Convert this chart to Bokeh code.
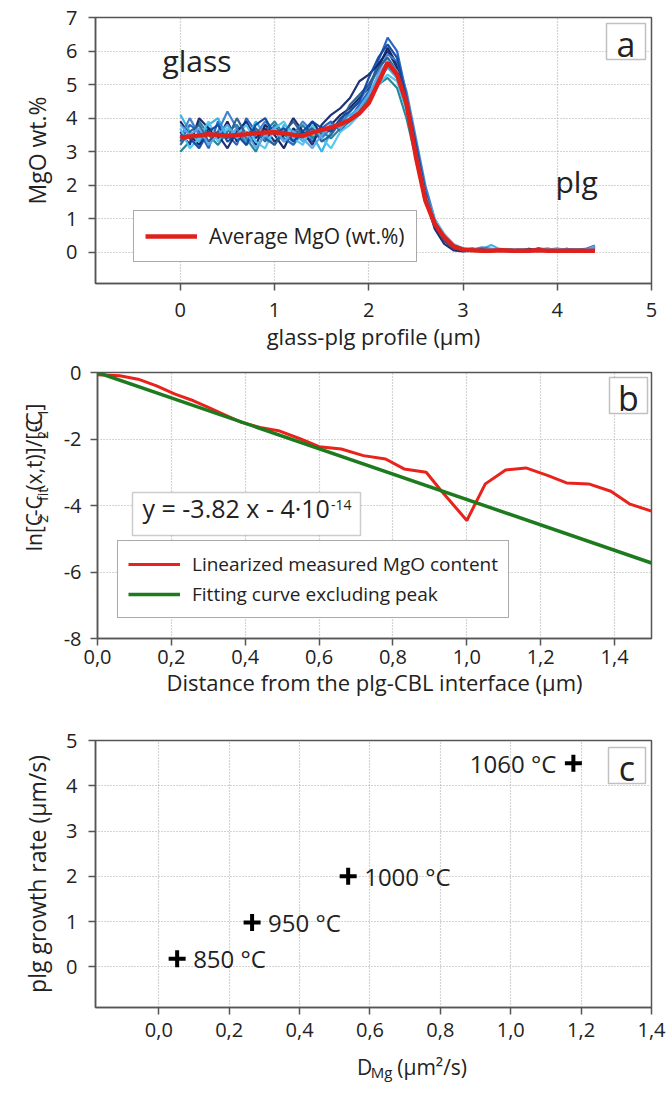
import numpy as np
from bokeh.plotting import figure
from bokeh.layouts import column, row
from bokeh.models import (Range1d, FixedTicker, Legend, LegendItem, Label,
                          BoxAnnotation, CustomJSTickFormatter)
from bokeh.core.properties import value
from bokeh.embed import file_html
from bokeh.resources import INLINE

FONT = "Open Sans"

# ---------------- panel a data ----------------
profile_x = [0.0, 0.1, 0.2, 0.3, 0.4, 0.5, 0.6, 0.7, 0.8, 0.9,
             1.0, 1.1, 1.2, 1.3, 1.4, 1.5, 1.6, 1.7, 1.8, 1.9,
             2.0, 2.1, 2.2, 2.3, 2.4, 2.5, 2.6, 2.7, 2.8, 2.9,
             3.0, 3.1, 3.2, 3.3, 3.4, 3.5, 3.6, 3.7, 3.8, 3.9,
             4.0, 4.1, 4.2, 4.3, 4.4]
profile_1 = [3.9, 3.5, 3.2, 3.7, 3.4, 3.9, 3.3, 3.6, 3.2, 3.8,
             3.5, 3.1, 3.7, 3.4, 3.9, 3.5, 3.8, 4.1, 4.3, 4.6,
             4.9, 5.5, 6.1, 5.6, 4.4, 3.0, 1.7, 0.8, 0.35, 0.12,
             0.05, 0.08, 0.03, 0.1, 0.06, 0.04, 0.09, 0.05, 0.12, 0.07,
             0.05, 0.1, 0.06, 0.04, 0.15]
profile_2 = [3.3, 3.8, 3.6, 3.1, 3.9, 3.5, 3.2, 4.0, 3.6, 3.3,
             3.8, 3.4, 3.2, 3.6, 3.3, 3.7, 3.9, 3.6, 4.0, 4.4,
             4.8, 5.7, 6.4, 6.0, 4.7, 3.2, 1.9, 0.9, 0.4, 0.15,
             0.08, 0.12, 0.05, 0.07, 0.1, 0.05, 0.08, 0.04, 0.09, 0.11,
             0.06, 0.05, 0.08, 0.1, 0.2]
profile_3 = [4.1, 3.6, 3.3, 3.8, 4.0, 3.4, 3.7, 3.3, 3.9, 3.5,
             3.2, 3.8, 3.6, 3.3, 3.5, 3.0, 3.6, 3.9, 4.1, 4.3,
             4.7, 5.2, 5.5, 5.2, 4.3, 3.1, 1.8, 0.95, 0.5, 0.2,
             0.1, 0.06, 0.1, 0.22, 0.08, 0.05, 0.06, 0.1, 0.04, 0.08,
             0.12, 0.06, 0.09, 0.05, 0.1]
profile_4 = [3.0, 3.3, 3.9, 3.5, 3.2, 3.6, 3.8, 3.4, 3.0, 3.6,
             3.9, 3.5, 3.3, 3.8, 3.4, 3.6, 3.4, 3.7, 3.9, 4.2,
             4.6, 5.0, 5.2, 4.9, 4.0, 2.8, 1.6, 0.85, 0.45, 0.18,
             0.07, 0.05, 0.09, 0.06, 0.04, 0.08, 0.05, 0.07, 0.06, 0.04,
             0.09, 0.05, 0.07, 0.06, 0.08]
profile_5 = [3.6, 3.2, 4.0, 3.7, 3.5, 3.1, 3.6, 3.9, 3.4, 3.7,
             3.3, 3.5, 4.0, 3.6, 3.2, 3.8, 4.1, 4.3, 4.6, 5.1,
             5.3, 5.6, 6.0, 5.5, 4.5, 3.1, 1.6, 0.7, 0.25, 0.06,
             0.03, 0.05, 0.04, 0.08, 0.05, 0.03, 0.06, 0.1, 0.05, 0.04,
             0.07, 0.05, 0.04, 0.06, 0.05]
profile_6 = [3.4, 4.0, 3.5, 3.3, 3.6, 4.2, 3.7, 3.2, 3.5, 3.9,
             3.6, 3.3, 3.5, 3.9, 3.6, 3.4, 3.7, 3.8, 4.2, 4.5,
             5.0, 5.4, 5.9, 5.7, 4.8, 3.4, 2.0, 1.0, 0.45, 0.2,
             0.12, 0.08, 0.15, 0.1, 0.06, 0.09, 0.07, 0.05, 0.1, 0.08,
             0.06, 0.1, 0.07, 0.05, 0.12]
profile_7 = [3.7, 3.1, 3.4, 3.9, 3.3, 3.7, 3.5, 3.8, 3.3, 3.1,
             3.7, 3.9, 3.4, 3.2, 3.8, 3.4, 3.1, 3.6, 3.8, 4.1,
             4.5, 5.0, 5.3, 5.1, 4.2, 3.0, 1.8, 1.0, 0.55, 0.25,
             0.12, 0.08, 0.06, 0.09, 0.07, 0.05, 0.08, 0.06, 0.05, 0.07,
             0.1, 0.06, 0.05, 0.08, 0.1]
profile_8 = [3.2, 3.6, 3.8, 3.3, 3.6, 3.4, 4.0, 3.5, 3.7, 3.4,
             3.2, 3.6, 3.9, 3.5, 3.7, 3.3, 3.5, 3.9, 4.4, 4.7,
             5.0, 5.5, 5.8, 5.4, 4.3, 2.9, 1.6, 0.8, 0.35, 0.12,
             0.06, 0.05, 0.07, 0.05, 0.08, 0.06, 0.04, 0.07, 0.05, 0.09,
             0.06, 0.05, 0.07, 0.05, 0.06]
profile_9 = [3.5, 3.4, 3.1, 3.6, 3.8, 3.3, 3.5, 3.2, 3.8, 4.0,
             3.5, 3.7, 3.3, 3.6, 3.9, 3.7, 3.6, 4.0, 4.2, 4.5,
             5.2, 5.8, 6.2, 5.8, 4.6, 3.2, 1.8, 0.9, 0.4, 0.15,
             0.07, 0.05, 0.08, 0.06, 0.05, 0.07, 0.05, 0.06, 0.08, 0.05,
             0.06, 0.07, 0.05, 0.06, 0.07]
profile_10 = [3.8, 3.5, 3.7, 3.2, 3.5, 3.8, 3.4, 3.6, 3.1, 3.5,
              3.7, 3.3, 3.6, 3.4, 3.1, 3.5, 3.8, 3.7, 4.0, 4.3,
              4.7, 5.3, 5.7, 5.4, 4.4, 3.0, 1.7, 0.9, 0.5, 0.2,
              0.1, 0.07, 0.06, 0.1, 0.07, 0.06, 0.09, 0.07, 0.06, 0.1,
              0.07, 0.08, 0.06, 0.07, 0.18]
avg_mgo = [3.42, 3.45, 3.48, 3.52, 3.50, 3.47, 3.50, 3.52, 3.55, 3.57,
           3.58, 3.55, 3.50, 3.47, 3.57, 3.65, 3.72, 3.82, 3.95, 4.15,
           4.45, 5.05, 5.65, 5.30, 4.45, 2.85, 1.55, 0.85, 0.45, 0.18,
           0.08, 0.06, 0.05, 0.05, 0.06, 0.05, 0.05, 0.05, 0.06, 0.05,
           0.05, 0.05, 0.05, 0.05, 0.05]
profiles = [profile_1, profile_2, profile_3, profile_4, profile_5,
            profile_6, profile_7, profile_8, profile_9, profile_10]
profile_colors = ["#0b1f5e", "#1f5fbf", "#33b0e6", "#1a8296", "#14266e",
                  "#3d7cc9", "#4fc3f0", "#2a5d8f", "#0d47a1", "#5aa9e6"]
xticks_a = [0, 1, 2, 3, 4, 5]
yticks_a = [0, 1, 2, 3, 4, 5, 6, 7]

# ---------------- panel b data ----------------
dist_x = [0.0, 0.06, 0.11, 0.16, 0.21, 0.26, 0.30, 0.34, 0.39, 0.44,
          0.49, 0.55, 0.60, 0.66, 0.72, 0.78, 0.83, 0.89, 0.93, 1.00,
          1.05, 1.105, 1.16, 1.22, 1.27, 1.33, 1.39, 1.44, 1.50]
lin_mgo = [-0.07, -0.10, -0.20, -0.40, -0.65, -0.85, -1.05, -1.25, -1.50, -1.65,
           -1.75, -2.00, -2.23, -2.30, -2.50, -2.60, -2.90, -3.00, -3.55, -4.45,
           -3.35, -2.93, -2.87, -3.10, -3.32, -3.35, -3.57, -3.95, -4.17]
fit_x = [0.0, 1.5]
fit_y = [0.0, -5.73]
xticks_b = [0.0, 0.2, 0.4, 0.6, 0.8, 1.0, 1.2, 1.4]
yticks_b = [-8, -6, -4, -2, 0]

# ---------------- panel c data ----------------
d_mg = [0.052, 0.265, 0.538, 1.178]
growth_rate = [0.18, 0.98, 2.0, 4.5]
temps = ["850 °C", "950 °C", "1000 °C", "1060 °C"]
xticks_c = [0.0, 0.2, 0.4, 0.6, 0.8, 1.0, 1.2, 1.4]
yticks_c = [0, 1, 2, 3, 4, 5]

AX = "#555555"
TXT = "#222222"
CW = {' ': 0.26, '(': 0.296, ')': 0.296, ',': 0.245, '-': 0.322, '.': 0.266,
      '/': 0.372, '[': 0.303, ']': 0.303, 'C': 0.633, 'D': 0.739, 'M': 0.907,
      'g': 0.549, 'f': 0.344, 'i': 0.258, 'l': 0.258, 'n': 0.612, 't': 0.352,
      'x': 0.523, 's': 0.479, 'µ': 0.621, 'm': 0.93, '²': 0.361, '·': 0.266,
      '=': 0.572, 'y': 0.5}


def tw(s, size):
    return sum(CW.get(c, 0.572) for c in s) * size


def make_fig(width, height, left, top, bottom, xr, yr):
    p = figure(width=width, height=height, x_range=Range1d(*xr), y_range=Range1d(*yr),
               output_backend="svg", toolbar_location=None,
               min_border_left=left, min_border_right=16,
               min_border_top=top, min_border_bottom=bottom)
    p.outline_line_color = AX
    p.outline_line_width = 1.5
    p.background_fill_color = "white"
    for ax in (p.xaxis[0], p.yaxis[0]):
        ax.axis_line_color = AX
        ax.axis_line_width = 1.5
        ax.major_tick_line_color = AX
        ax.major_tick_line_width = 1.5
        ax.major_tick_out = 7
        ax.major_tick_in = 0
        ax.minor_tick_line_color = None
        ax.major_label_text_font = FONT
        ax.major_label_text_font_size = "20px"
        ax.major_label_text_color = TXT
        ax.axis_label_text_font = FONT
        ax.axis_label_text_font_size = "22px"
        ax.axis_label_text_font_style = "normal"
        ax.axis_label_text_color = TXT
    for g in (p.xgrid[0], p.ygrid[0]):
        g.grid_line_color = "#a8a8a8"
        g.grid_line_dash = "1 2"
        g.grid_line_width = 1.2
    return p


def set_ticks(p, xt, yt):
    tx = FixedTicker(ticks=xt)
    ty = FixedTicker(ticks=yt)
    p.xaxis.ticker = tx
    p.xgrid.ticker = tx
    p.yaxis.ticker = ty
    p.ygrid.ticker = ty


def panel_letter(p, letter, left, right, top, bottom):
    p.add_layout(BoxAnnotation(left=left, right=right, top=top, bottom=bottom,
                               left_units="screen", right_units="screen",
                               top_units="screen", bottom_units="screen",
                               fill_color="white", fill_alpha=1.0,
                               line_color="#333333", line_width=1.5))
    p.add_layout(Label(x=(left + right) / 2, y=(top + bottom) / 2 - 2,
                       x_units="screen", y_units="screen", text=letter,
                       text_align="center", text_baseline="middle",
                       text_font=FONT, text_font_size="34px",
                       text_color=TXT))


def blank_fig(width, height):
    f = figure(width=width, height=height, x_range=Range1d(0, width),
               y_range=Range1d(0, height), x_axis_type=None, y_axis_type=None,
               output_backend="svg", toolbar_location=None, min_border=0)
    f.outline_line_color = None
    f.grid.visible = False
    return f


comma = CustomJSTickFormatter(code="return tick.toFixed(1).replace('.', ',');")
plain = CustomJSTickFormatter(code="return tick.toString();")

# ================= panel a =================
pa = make_fig(667, 355, 95, 17, 72, (-0.9, 5.0), (-0.93, 7.0))
set_ticks(pa, xticks_a, yticks_a)
pa.xaxis.axis_label = "glass-plg profile (µm)"
pa.yaxis.axis_label = "MgO wt.%"
pa.yaxis.axis_label_text_font_size = "23px"
pa.xaxis.major_label_standoff = 12
pa.xaxis.axis_label_standoff = 1
pa.yaxis.major_label_standoff = 11
pa.yaxis.axis_label_standoff = 10
for prof, col in zip(profiles, profile_colors):
    pa.line(profile_x, prof, line_color=col, line_width=2.2, line_alpha=0.95)
r_avg = pa.line(profile_x, avg_mgo, line_color="#e0201b", line_width=4.5)
leg_a = Legend(items=[LegendItem(label="Average MgO (wt.%)", renderers=[r_avg])],
               location=(38, 21))
leg_a.label_text_font = FONT
leg_a.label_text_font_size = "21px"
leg_a.label_text_color = TXT
leg_a.glyph_width = 52
leg_a.glyph_height = 24
leg_a.label_height = 24
leg_a.label_standoff = 12
leg_a.padding = 11
leg_a.margin = 0
leg_a.border_line_color = AX
leg_a.border_line_width = 1.5
pa.add_layout(leg_a)
pa.add_layout(Label(x=67, y=203, x_units="screen", y_units="screen", text="glass",
                    text_font=FONT, text_font_size="30px", text_color=TXT))
pa.add_layout(Label(x=460, y=82, x_units="screen", y_units="screen", text="plg",
                    text_font=FONT, text_font_size="30px", text_color=TXT))
panel_letter(pa, "a", 511, 550, 260, 224)

# ================= panel b =================
pb = make_fig(607, 365, 35, 17, 82, (0.0, 1.5), (-8.0, 0.0))
set_ticks(pb, xticks_b, yticks_b)
pb.xaxis.formatter = comma
pb.yaxis.formatter = plain
pb.xaxis.axis_label = "Distance from the plg-CBL interface (µm)"
pb.xaxis.major_label_standoff = 4
pb.xaxis.axis_label_standoff = 0
pb.yaxis.major_label_standoff = 9
r_lin = pb.line(dist_x, lin_mgo, line_color="#e8231b", line_width=3)
r_fit = pb.line(fit_x, fit_y, line_color="#1e7a1e", line_width=3.5)
leg_b = Legend(items=[LegendItem(label="Linearized measured MgO content", renderers=[r_lin]),
                      LegendItem(label="Fitting curve excluding peak", renderers=[r_fit])],
               location=(20, 20))
leg_b.label_text_font = FONT
leg_b.label_text_font_size = "19px"
leg_b.label_text_color = TXT
leg_b.glyph_width = 52
leg_b.glyph_height = 26
leg_b.label_height = 26
leg_b.label_standoff = 12
leg_b.padding = 10
leg_b.spacing = 4
leg_b.margin = 0
leg_b.border_line_color = AX
leg_b.border_line_width = 1.5
pb.add_layout(leg_b)
# equation box
pb.add_layout(BoxAnnotation(left=35, right=263, top=146, bottom=103,
                            left_units="screen", right_units="screen",
                            top_units="screen", bottom_units="screen",
                            fill_color="white", fill_alpha=1.0,
                            line_color=AX, line_width=1.5))
eq_main = "y = -3.82 x - 4·10"
pb.add_layout(Label(x=45, y=114, x_units="screen", y_units="screen", text=eq_main,
                    text_font=FONT, text_font_size="25px", text_color=TXT))
pb.add_layout(Label(x=45 + tw(eq_main, 25) + 1, y=129, x_units="screen", y_units="screen",
                    text="-14", text_font=FONT, text_font_size="14px",
                    text_color=TXT))
panel_letter(pb, "b", 512, 550, 261, 225)

# rotated y label of panel b (with subscripts), in a side strip
lab_b = blank_fig(60, 365)
ylab_pieces = [("ln[C", 21, 0), ("2", 14, 9), ("-C", 21, 0), ("fit", 14, 9),
               ("(x,t)]/[C", 21, 0), ("2", 14, 9), ("-C", 21, 0), ("1", 14, 9),
               ("]", 21, 0)]
total_b = sum(tw(t, s) + 1 for t, s, _ in ylab_pieces)
pos = 365 - (500 - 355) - total_b / 2
for txt, size, shift in ylab_pieces:
    lab_b.text([33 + shift], [pos], text=[txt], angle=np.pi / 2, text_align="left",
               text_baseline="alphabetic", text_font=value(FONT),
               text_font_size=f"{size}px", text_color=TXT)
    pos += tw(txt, size) + 1

# ================= panel c =================
pc = make_fig(667, 333, 95, 20, 46, (-0.18, 1.4), (-0.9, 5.0))
set_ticks(pc, xticks_c, yticks_c)
pc.xaxis.formatter = comma
pc.yaxis.axis_label = "plg growth rate (µm/s)"
pc.yaxis.axis_label_text_font_size = "23px"
pc.xaxis.major_label_standoff = 8
pc.yaxis.major_label_standoff = 11
pc.yaxis.axis_label_standoff = 10
pc.scatter(d_mg, growth_rate, marker="cross", size=17, line_width=4, line_color="black")
pc.text(d_mg[:3], growth_rate[:3], text=temps[:3], x_offset=16, text_align="left",
        text_baseline="middle", text_font=value(FONT), text_font_size="24px",
        text_color=TXT)
pc.text(d_mg[3:], growth_rate[3:], text=temps[3:], x_offset=-17, text_align="right",
        text_baseline="middle", text_font=value(FONT), text_font_size="24px",
        text_color=TXT)
panel_letter(pc, "c", 513, 550, 260, 224)

# x label D_Mg (µm²/s) in a strip below panel c
lab_c = blank_fig(667, 40)
xl_pieces = [("D", 21, 0, 0), ("Mg", 15, -5, 1), ("(µm²/s)", 21, 0, 10)]
total_c = sum(tw(t, s) + g for t, s, _, g in xl_pieces)
pos = 373 - total_c / 2
for txt, size, shift, gap in xl_pieces:
    pos += gap
    lab_c.text([pos], [27 + shift], text=[txt], text_align="left",
               text_baseline="alphabetic", text_font=value(FONT),
               text_font_size=f"{size}px", text_color=TXT)
    pos += tw(txt, size)

layout = column(pa, row(lab_b, pb, spacing=0), pc, lab_c, spacing=0)
open("out.html", "w").write(file_html(layout, INLINE))
